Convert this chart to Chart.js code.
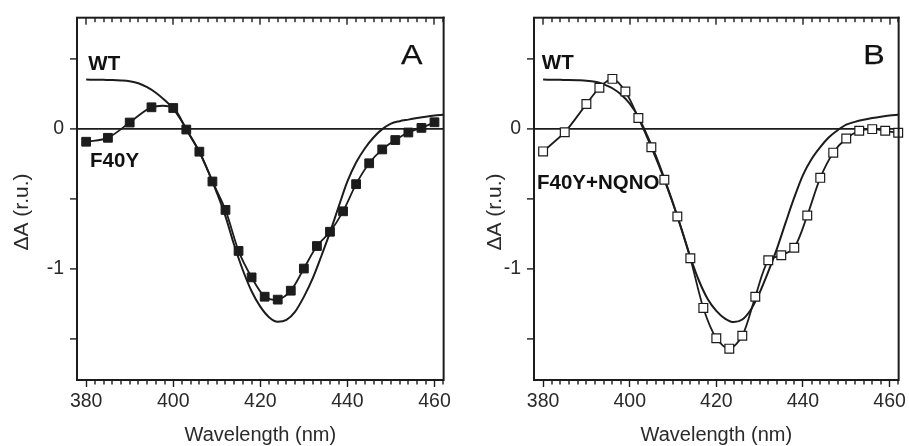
<!DOCTYPE html>
<html>
<head>
<meta charset="utf-8">
<script src="https://cdn.jsdelivr.net/npm/chart.js@4.4.0/dist/chart.umd.min.js"></script>
<style>
  body { margin: 0; background: #fff; }
  #wrap { position: relative; width: 909px; height: 446px; }
  canvas { position: absolute; top: 0; }
</style>
</head>
<body>
<div id="wrap">
  <canvas id="panelA" width="454" height="446" style="left:0"></canvas>
  <canvas id="panelB" width="455" height="446" style="left:454px"></canvas>
</div>
<script>
// wild type reference spectrum (same in both panels, slight redraw differences)
const wtWavelength = [380, 382, 384, 386, 388, 390, 392, 394, 396, 398, 400, 402, 404, 406, 408, 410,
  412, 414, 416, 418, 420, 422, 424, 426, 428, 430, 432, 434, 436, 438, 440, 442, 444, 446, 448, 450,
  452, 454, 456, 458, 460, 462];
const wtA = [0.352, 0.351, 0.350, 0.349, 0.346, 0.340, 0.326, 0.298, 0.258, 0.206, 0.144, 0.052,
  -0.055, -0.165, -0.300, -0.455, -0.625, -0.830, -1.010, -1.160, -1.270, -1.345, -1.378, -1.365,
  -1.305, -1.200, -1.070, -0.910, -0.740, -0.555, -0.375, -0.240, -0.140, -0.062, -0.002, 0.038,
  0.055, 0.066, 0.077, 0.087, 0.095, 0.100];
const wtB = [0.352, 0.351, 0.350, 0.349, 0.347, 0.344, 0.336, 0.318, 0.290, 0.245, 0.180, 0.085,
  -0.045, -0.190, -0.355, -0.530, -0.720, -0.915, -1.085, -1.215, -1.300, -1.355, -1.380, -1.362,
  -1.290, -1.170, -1.020, -0.855, -0.670, -0.490, -0.330, -0.215, -0.130, -0.060, -0.010, 0.030,
  0.050, 0.065, 0.077, 0.087, 0.095, 0.100];

// F40Y (panel A)
const f40yWavelength = [380, 385, 390, 395, 400, 403, 406, 409, 412, 415, 418, 421, 424, 427, 430,
  433, 436, 439, 442, 445, 448, 451, 454, 457, 460];
const f40yValues = [-0.092, -0.064, 0.045, 0.154, 0.149, -0.005, -0.163, -0.376, -0.579, -0.872,
  -1.061, -1.199, -1.220, -1.156, -0.998, -0.837, -0.735, -0.589, -0.395, -0.246, -0.147, -0.080,
  -0.026, 0.007, 0.047];

// F40Y + NQNO (panel B)
const nqnoWavelength = [380, 385, 390, 393, 396, 399, 402, 405, 408, 411, 414, 417, 420, 423, 426,
  429, 432, 435, 438, 441, 444, 447, 450, 453, 456, 459, 462];
const nqnoValues = [-0.161, -0.024, 0.177, 0.293, 0.357, 0.267, 0.078, -0.132, -0.364, -0.626,
  -0.924, -1.279, -1.496, -1.570, -1.478, -1.199, -0.939, -0.903, -0.849, -0.619, -0.350, -0.170,
  -0.069, -0.014, -0.002, -0.014, -0.028];

const yTickLabels = { '0': '0', '-1': '-1' };

const ink = '#1c1c1c';
const fontFamily = "'Liberation Sans', Arial, sans-serif";

function pts(xs, ys) {
  return xs.map((x, i) => ({ x: x, y: ys[i] }));
}

// frame, minor ticks, titles and in-plot labels
const decor = {
  id: 'decor',
  afterDraw(chart, args, opts) {
    const ctx = chart.ctx;
    const a = chart.chartArea;
    const xs = chart.scales.x;
    const ys = chart.scales.y;
    ctx.save();
    ctx.fillStyle = ink;
    // top and right edges of the box
    ctx.fillRect(a.left - 1, a.top - 1, a.right - a.left + 2, 2);
    ctx.fillRect(a.right - 1, a.top - 1, 2, a.bottom - a.top + 2);

    // 2 nm ticks: inward along the top, outward along the bottom
    for (let v = 380; v <= 462; v += 2) {
      const px = Math.round(xs.getPixelForValue(v));
      const major = v % 20 === 0;
      ctx.fillRect(px - 0.7, a.top, 1.4, major ? 7 : 4.5);
      if (!major) {
        ctx.fillRect(px - 0.7, a.bottom, 1.4, 4.5);
      }
    }

    ctx.fillStyle = '#2a2a2a';
    ctx.font = '20px ' + fontFamily;
    ctx.textAlign = 'center';
    ctx.textBaseline = 'middle';
    ctx.fillText('Wavelength (nm)', (a.left + a.right) / 2, 435);
    ctx.save();
    ctx.translate(opts.yTitleX, 212);
    ctx.rotate(-Math.PI / 2);
    ctx.font = '21px ' + fontFamily;
    ctx.fillText('\u0394A (r.u.)', 0, 0);
    ctx.restore();

    ctx.fillStyle = '#111';
    ctx.textAlign = 'left';
    ctx.textBaseline = 'alphabetic';
    ctx.font = 'bold 20.5px ' + fontFamily;
    opts.labels.forEach(l => {
      ctx.fillText(l.text, xs.getPixelForValue(l.x), ys.getPixelForValue(l.y));
    });

    // panel letter, a bit wider than the plain font
    ctx.save();
    ctx.translate(xs.getPixelForValue(opts.letter.x), ys.getPixelForValue(opts.letter.y));
    ctx.scale(1.15, 1);
    ctx.font = '28px ' + fontFamily;
    ctx.lineWidth = 0.25;
    ctx.strokeStyle = '#111';
    ctx.fillText(opts.letter.text, 0, 0);
    ctx.strokeText(opts.letter.text, 0, 0);
    ctx.restore();
    ctx.restore();
  }
};

function makeChart(id, cfg) {
  const ctx = document.getElementById(id).getContext('2d');
  return new Chart(ctx, {
    type: 'line',
    data: {
      datasets: [
        {
          data: pts(cfg.markX, cfg.markY),
          borderColor: ink,
          borderWidth: 1.8,
          tension: 0.3,
          pointStyle: 'rect',
          pointRadius: 6.2,
          pointBorderWidth: cfg.filled ? 1 : 1.2,
          pointBackgroundColor: cfg.filled ? ink : '#fff',
          pointBorderColor: ink,
          clip: false
        },
        {
          data: pts(wtWavelength, cfg.wt),
          borderColor: ink,
          borderWidth: 2,
          pointRadius: 0,
          cubicInterpolationMode: 'monotone'
        }
      ]
    },
    options: {
      responsive: false,
      animation: false,
      events: [],
      layout: { padding: { top: 15, right: cfg.padRight, bottom: 0, left: 0 } },
      plugins: {
        legend: { display: false },
        tooltip: { enabled: false },
        decor: { labels: cfg.labels, letter: cfg.letter, yTitleX: cfg.yTitleX }
      },
      scales: {
        x: {
          type: 'linear',
          min: 377.9,
          max: 462.1,
          afterFit: s => { s.height = 66; },
          border: { display: true, width: 2, color: ink },
          grid: { drawOnChartArea: false, tickLength: 7, tickWidth: 1.4, tickColor: ink },
          ticks: {
            stepSize: 20,
            includeBounds: false,
            padding: 3,
            color: '#2a2a2a',
            font: { family: fontFamily, size: 19.5 },
            maxRotation: 0
          }
        },
        y: {
          type: 'linear',
          min: -1.794,
          max: 0.794,
          afterFit: s => { s.width = cfg.yWidth; },
          border: { display: true, width: 2, color: ink },
          grid: {
            drawOnChartArea: true,
            color: c => (c.tick && Math.abs(c.tick.value) < 1e-9) ? ink : 'rgba(0,0,0,0)',
            lineWidth: 1.8,
            tickLength: 7,
            tickWidth: 1.4,
            tickColor: ink
          },
          ticks: {
            stepSize: 0.5,
            includeBounds: false,
            padding: 6,
            color: '#2a2a2a',
            font: { family: fontFamily, size: 19.5 },
            callback: v => yTickLabels[String(Math.round(v * 100) / 100)] || ''
          }
        }
      }
    },
    plugins: [decor]
  });
}

makeChart('panelA', {
  markX: f40yWavelength, markY: f40yValues, wt: wtA, filled: true,
  yWidth: 77, padRight: 10, yTitleX: 22,
  labels: [{ text: 'WT', x: 380.5, y: 0.418 }, { text: 'F40Y', x: 380.9, y: -0.27 }],
  letter: { text: 'A', x: 452.3, y: 0.46 }
});

makeChart('panelB', {
  markX: nqnoWavelength, markY: nqnoValues, wt: wtB, filled: false,
  yWidth: 80, padRight: 7, yTitleX: 41.5,
  labels: [{ text: 'WT', x: 379.7, y: 0.428 }, { text: 'F40Y+NQNO', x: 378.6, y: -0.433 }],
  letter: { text: 'B', x: 453.9, y: 0.46 }
});
</script>
</body>
</html>
